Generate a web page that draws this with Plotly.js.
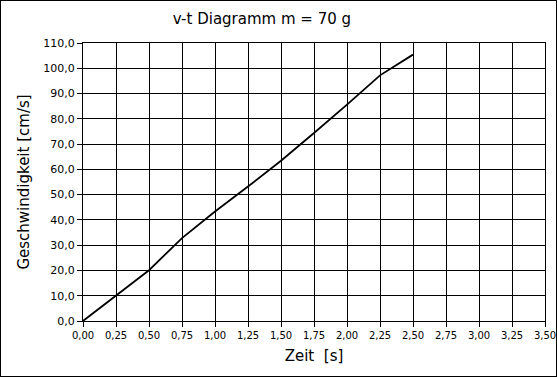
<!DOCTYPE html>
<html><head><meta charset="utf-8">
<script src="https://cdn.plot.ly/plotly-3.0.1.min.js"></script>
<style>html,body{margin:0;padding:0;background:#fff}#c{width:557px;height:377px;box-sizing:border-box;border:1px solid #000;overflow:hidden}</style>
</head><body><div id="c"></div>
<script>
const zeit = [0, 0.25, 0.5, 0.75, 1.0, 1.25, 1.5, 1.75, 2.0, 2.25, 2.5];
const geschwindigkeit = [0, 10.0, 20.1, 32.8, 43.3, 53.2, 63.4, 74.4, 85.6, 97.2, 105.4];
const xTicks = [0,0.25,0.5,0.75,1,1.25,1.5,1.75,2,2.25,2.5,2.75,3,3.25,3.5];
const yTicks = [0,10,20,30,40,50,60,70,80,90,100,110];

const trace = {x: zeit, y: geschwindigkeit, type:'scatter', mode:'lines',
  line:{color:'#000', width:1.8}, hoverinfo:'skip'};
const font = {family:'DejaVu Sans, Verdana, sans-serif', color:'#000'};
const layout = {
  width:555, height:375, separators:',.',
  margin:{l:82, r:11, t:42, b:55},
  paper_bgcolor:'#fff', plot_bgcolor:'#fff', showlegend:false,
  font: Object.assign({size:10}, font),
  title:{text:'v-t Diagramm m = 70 g', x:0.47, xanchor:'center', y:0.953, yanchor:'middle',
    font:Object.assign({size:15}, font)},
  xaxis:{range:[0,3.5], tickvals:xTicks, tickformat:'.2f', showgrid:true, gridcolor:'#000', gridwidth:1,
    showline:true, linecolor:'#000', linewidth:1, mirror:true, zeroline:false,
    ticks:'outside', ticklen:5, tickcolor:'#000', tickfont:Object.assign({size:10}, font),
    ticklabeloverflow:'allow',
    title:{text:'Zeit&nbsp;&nbsp;[s]', standoff:10, font:Object.assign({size:15}, font)}},
  yaxis:{range:[0,110], tickvals:yTicks, tickformat:'.1f', showgrid:true, gridcolor:'#000', gridwidth:1,
    showline:true, linecolor:'#000', linewidth:1, mirror:true, zeroline:false,
    ticks:'outside', ticklen:5, tickcolor:'#000', tickfont:Object.assign({size:11}, font),
    title:{text:'Geschwindigkeit [cm/s]', standoff:10, font:Object.assign({size:15}, font)}}
};
Plotly.newPlot('c', [trace], layout, {staticPlot:true, displayModeBar:false});
</script></body></html>
